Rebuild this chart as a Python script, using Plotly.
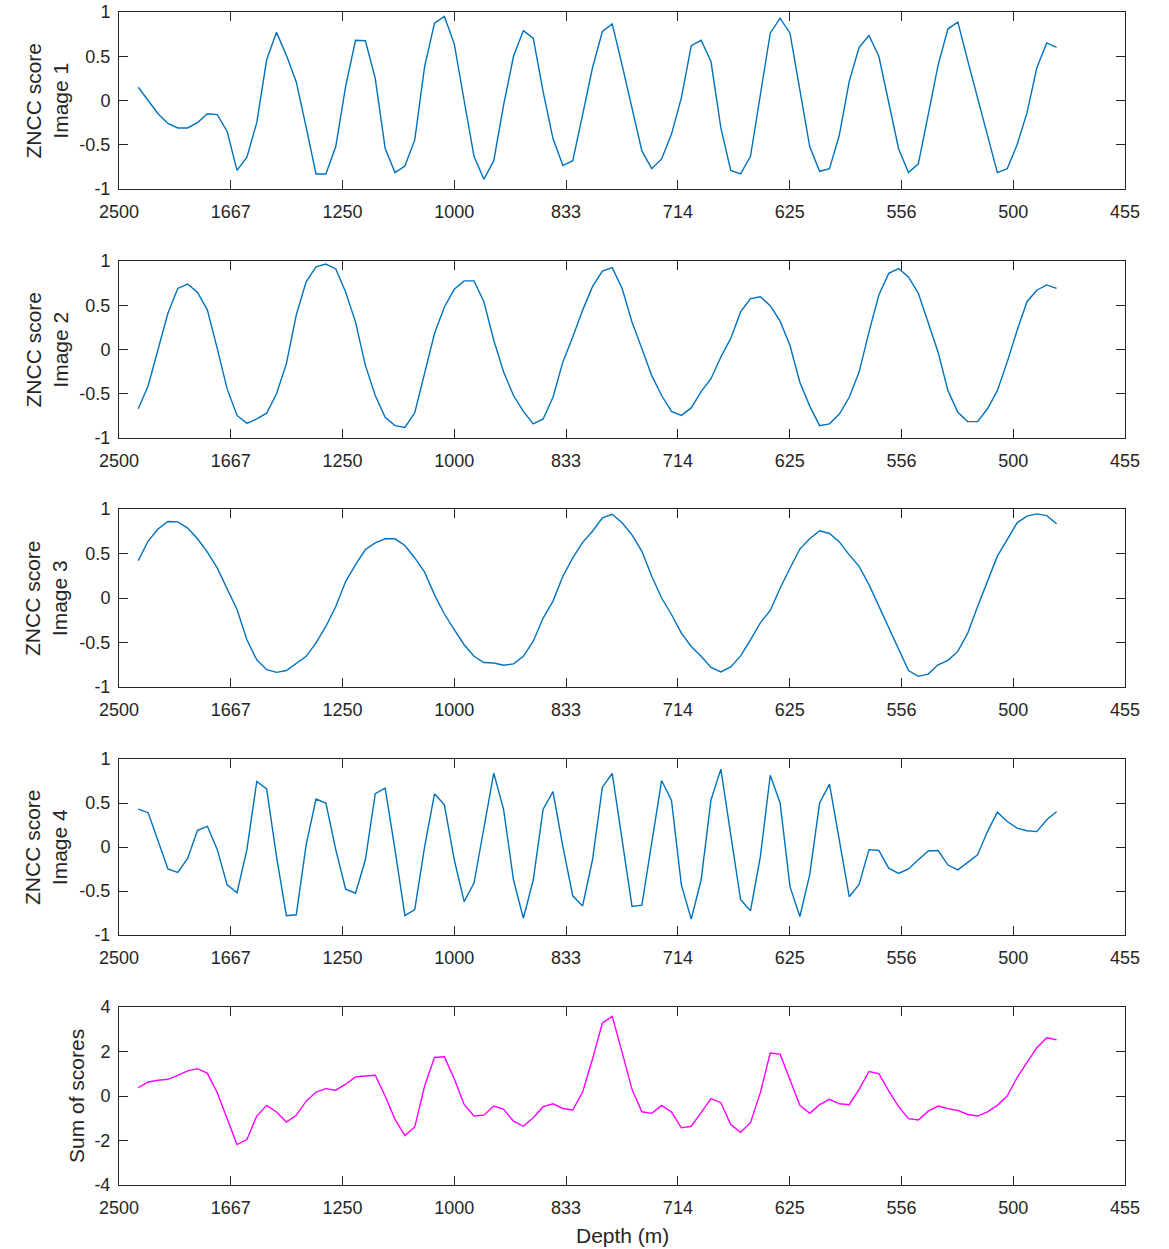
import numpy as np
import plotly.graph_objects as go

# ---------------- data ----------------
n_points = 94
wavenumber_first = 0.0004345   # 1/m, first sample
wavenumber_last = 0.0020776    # 1/m, last sample

tick_wavenumber = [0.0004, 0.0006, 0.0008, 0.0010, 0.0012, 0.0014, 0.0016, 0.0018, 0.0020, 0.0022]
tick_depth_labels = ["2500", "1667", "1250", "1000", "833", "714", "625", "556", "500", "455"]

score_image1 = [
    0.15, 0.0, -0.15, -0.26, -0.31, -0.31, -0.25, -0.15, -0.16, -0.35,
    -0.79, -0.64, -0.25, 0.46, 0.77, 0.51, 0.21, -0.30, -0.83, -0.83,
    -0.52, 0.16, 0.68, 0.675, 0.25, -0.54, -0.815, -0.74, -0.445, 0.385,
    0.875, 0.95, 0.64, 0.0, -0.63, -0.89, -0.68, -0.05, 0.50, 0.79,
    0.705, 0.10, -0.43, -0.735, -0.68, -0.16, 0.37, 0.78, 0.865, 0.40,
    -0.10, -0.57, -0.77, -0.66, -0.38, 0.03, 0.62, 0.68, 0.44, -0.31,
    -0.79, -0.83, -0.63, 0.05, 0.76, 0.93, 0.76, 0.12, -0.52, -0.80,
    -0.77, -0.39, 0.215, 0.60, 0.735, 0.50, -0.01, -0.545, -0.815, -0.715,
    -0.16, 0.40, 0.81, 0.885, 0.45, 0.02, -0.40, -0.815, -0.77, -0.50,
    -0.14, 0.37, 0.65, 0.60]

score_image2 = [
    -0.67, -0.41, 0.0, 0.41, 0.69, 0.74, 0.645, 0.445, 0.01, -0.445,
    -0.745, -0.835, -0.785, -0.72, -0.50, -0.16, 0.39, 0.765, 0.935, 0.965,
    0.91, 0.65, 0.31, -0.18, -0.52, -0.765, -0.86, -0.88, -0.715, -0.255,
    0.18, 0.48, 0.68, 0.775, 0.775, 0.54, 0.105, -0.255, -0.52, -0.70,
    -0.84, -0.785, -0.54, -0.14, 0.14, 0.445, 0.71, 0.885, 0.925, 0.69,
    0.31, 0.01, -0.295, -0.52, -0.70, -0.745, -0.66, -0.475, -0.33, -0.085,
    0.125, 0.425, 0.575, 0.595, 0.495, 0.32, 0.045, -0.37, -0.64, -0.86,
    -0.84, -0.73, -0.54, -0.255, 0.20, 0.615, 0.86, 0.915, 0.82, 0.635,
    0.31, -0.03, -0.465, -0.71, -0.815, -0.815, -0.67, -0.465, -0.14, 0.215,
    0.54, 0.67, 0.73, 0.69]

score_image3 = [
    0.42, 0.64, 0.775, 0.86, 0.855, 0.785, 0.665, 0.515, 0.335, 0.10,
    -0.13, -0.47, -0.695, -0.805, -0.835, -0.815, -0.73, -0.655, -0.505, -0.32,
    -0.095, 0.185, 0.375, 0.545, 0.62, 0.665, 0.665, 0.59, 0.45, 0.29,
    0.035, -0.18, -0.355, -0.525, -0.655, -0.725, -0.73, -0.755, -0.74, -0.655,
    -0.485, -0.225, -0.035, 0.245, 0.45, 0.625, 0.75, 0.90, 0.94, 0.845,
    0.71, 0.525, 0.245, 0.0, -0.185, -0.395, -0.545, -0.655, -0.78, -0.83,
    -0.775, -0.65, -0.47, -0.28, -0.14, 0.11, 0.335, 0.55, 0.665, 0.755,
    0.725, 0.63, 0.485, 0.355, 0.15, -0.095, -0.335, -0.58, -0.815, -0.88,
    -0.855, -0.75, -0.70, -0.60, -0.395, -0.095, 0.185, 0.47, 0.655, 0.845,
    0.92, 0.945, 0.925, 0.835]

score_image4 = [
    0.43, 0.39, 0.07, -0.25, -0.29, -0.13, 0.19, 0.235, -0.03, -0.43,
    -0.52, -0.03, 0.745, 0.66, -0.11, -0.78, -0.77, 0.025, 0.545, 0.50,
    -0.03, -0.48, -0.525, -0.145, 0.605, 0.67, -0.03, -0.78, -0.71, 0.005,
    0.605, 0.48, -0.145, -0.62, -0.41, 0.235, 0.84, 0.425, -0.375, -0.81,
    -0.375, 0.43, 0.63, 0.005, -0.555, -0.67, -0.145, 0.68, 0.835, 0.08,
    -0.675, -0.66, 0.045, 0.755, 0.53, -0.43, -0.82, -0.375, 0.535, 0.885,
    0.14, -0.60, -0.725, -0.11, 0.815, 0.50, -0.45, -0.79, -0.315, 0.50,
    0.715, 0.08, -0.565, -0.425, -0.03, -0.04, -0.24, -0.30, -0.25, -0.145,
    -0.045, -0.04, -0.205, -0.26, -0.175, -0.09, 0.175, 0.395, 0.29, 0.215,
    0.185, 0.175, 0.31, 0.40]

sum_of_scores = [
    0.38, 0.63, 0.71, 0.75, 0.93, 1.13, 1.23, 1.02, 0.15, -1.05,
    -2.18, -1.96, -0.90, -0.42, -0.72, -1.17, -0.87, -0.23, 0.18, 0.33,
    0.26, 0.53, 0.86, 0.90, 0.93, 0.0, -1.05, -1.78, -1.39, 0.45,
    1.73, 1.76, 0.78, -0.38, -0.90, -0.86, -0.45, -0.60, -1.13, -1.36,
    -0.98, -0.48, -0.35, -0.56, -0.63, 0.18, 1.66, 3.28, 3.58, 1.96,
    0.30, -0.71, -0.78, -0.42, -0.72, -1.43, -1.36, -0.75, -0.12, -0.30,
    -1.28, -1.63, -1.20, 0.15, 1.93, 1.88, 0.75, -0.42, -0.78, -0.39,
    -0.15, -0.35, -0.39, 0.30, 1.10, 1.01, 0.23, -0.48, -1.02, -1.08,
    -0.68, -0.45, -0.57, -0.65, -0.83, -0.90, -0.71, -0.42, 0.0, 0.83,
    1.51, 2.17, 2.62, 2.53]

score_ticks = [-1, -0.5, 0, 0.5, 1]
score_tick_labels = ["-1", "-0.5", "0", "0.5", "1"]
sum_ticks = [-4, -2, 0, 2, 4]
sum_tick_labels = ["-4", "-2", "0", "2", "4"]

panel_titles = ["ZNCC score<br>Image 1", "ZNCC score<br>Image 2",
                "ZNCC score<br>Image 3", "ZNCC score<br>Image 4", "Sum of scores"]

# ---------------- figure ----------------
W, H = 1169, 1249
ML, MR, MT, MB = 119, 44, 12, 64
PW, PH = W - ML - MR, H - MT - MB

# panel pixel extents (top, bottom)
panel_px = [(12, 189), (261, 438), (509, 687), (759, 935), (1007, 1185)]

def ypaper(py):
    return (H - MB - py) / PH

def xpaper(px):
    return (px - ML) / PW

wavenumber = np.linspace(wavenumber_first, wavenumber_last, n_points)

series = [score_image1, score_image2, score_image3, score_image4, sum_of_scores]
colors = ["#0072BD"] * 4 + ["#FF00FF"]

fig = go.Figure()
INK = "#262626"
FONT = "Liberation Sans, Arial, Helvetica, sans-serif"

layout = dict(
    width=W, height=H, autosize=False,
    margin=dict(l=ML, r=MR, t=MT, b=MB, pad=0, autoexpand=False),
    paper_bgcolor="white", plot_bgcolor="white",
    showlegend=False,
    font=dict(family=FONT, size=18, color=INK),
)

annotations = []
for k in range(5):
    idx = "" if k == 0 else str(k + 1)
    xa, ya = "x" + idx, "y" + idx
    fig.add_trace(go.Scatter(
        x=wavenumber, y=series[k], mode="lines",
        line=dict(color=colors[k], width=1.4),
        xaxis=xa, yaxis=ya, hoverinfo="skip"))
    top, bot = panel_px[k]
    common = dict(showline=True, linecolor=INK, linewidth=1, mirror="allticks",
                  ticks="inside", ticklen=9, tickwidth=1, tickcolor=INK,
                  showgrid=False, zeroline=False, automargin=False,
                  tickfont=dict(family=FONT, size=18, color=INK))
    layout["xaxis" + idx] = dict(
        domain=[0, 1], anchor=ya, range=[tick_wavenumber[0], tick_wavenumber[-1]],
        tickmode="array", tickvals=tick_wavenumber, ticktext=tick_depth_labels,
        ticklabelstandoff=6, **common)
    if k < 4:
        yt, ytl, yr = score_ticks, score_tick_labels, [-1, 1]
    else:
        yt, ytl, yr = sum_ticks, sum_tick_labels, [-4, 4]
    layout["yaxis" + idx] = dict(
        domain=[ypaper(bot), ypaper(top)], anchor=xa, range=yr,
        tickmode="array", tickvals=yt, ticktext=ytl,
        ticklabelstandoff=4, **common)
    cx = 46 if k < 4 else 76
    annotations.append(dict(
        text=panel_titles[k], xref="paper", yref="paper",
        x=xpaper(cx), y=ypaper((top + bot) / 2), xanchor="center", yanchor="middle",
        textangle=-90, showarrow=False,
        font=dict(family=FONT, size=21, color=INK)))

annotations.append(dict(
    text="Depth (m)", xref="paper", yref="paper",
    x=xpaper(622), y=ypaper(1235), xanchor="center", yanchor="middle",
    showarrow=False, font=dict(family=FONT, size=21, color=INK)))

layout["annotations"] = annotations
fig.update_layout(**layout)

fig.write_html(
    "out.html",
    config={"displayModeBar": False},
    post_script="document.body.style.margin='0px';document.body.style.overflow='hidden';",
)
